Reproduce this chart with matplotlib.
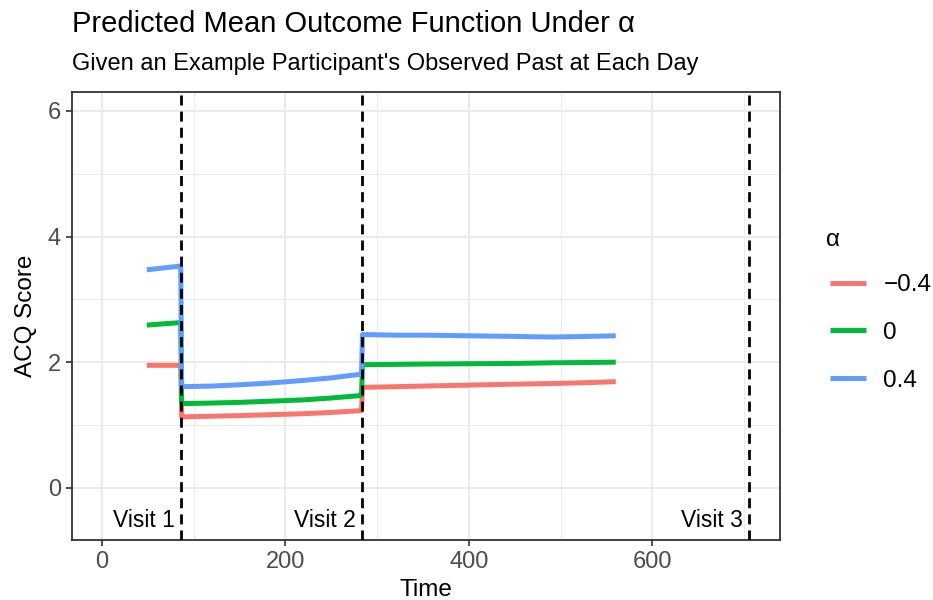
import matplotlib
matplotlib.use("Agg")
import matplotlib.pyplot as plt
from matplotlib.ticker import MultipleLocator

plt.rcParams['font.family'] = ['Liberation Sans', 'DejaVu Sans']

# days at which the predicted mean is shown
time = [49, 67, 86, 87, 120, 150, 185, 220, 250, 283,
        284, 320, 350, 400, 450, 490, 530, 560]

alpha_labels = ["\u22120.4", "0", "0.4"]
mean_neg = [1.95, 1.95, 1.95, 1.13, 1.14, 1.15, 1.165, 1.18, 1.20, 1.23,
            1.60, 1.61, 1.62, 1.635, 1.65, 1.66, 1.675, 1.69]
mean_zero = [2.59, 2.61, 2.63, 1.34, 1.35, 1.36, 1.38, 1.40, 1.43, 1.47,
             1.96, 1.965, 1.97, 1.975, 1.98, 1.99, 1.995, 2.00]
mean_pos = [3.47, 3.50, 3.53, 1.61, 1.62, 1.64, 1.67, 1.71, 1.75, 1.81,
            2.44, 2.43, 2.43, 2.42, 2.41, 2.40, 2.41, 2.42]

visit_days = [86, 283, 705]
visit_labels = ["Visit 1", "Visit 2", "Visit 3"]

colors = ["#F8766D", "#00BA38", "#619CFF"]

fig = plt.figure(figsize=(9.33, 6), dpi=100)
ax = fig.add_axes([72 / 933, 60 / 600, 708 / 933, 448 / 600])

for vals, lab, col in zip([mean_neg, mean_zero, mean_pos], alpha_labels, colors):
    ax.plot(time, vals, color=col, lw=3.6, label=lab, solid_capstyle="butt",
            solid_joinstyle="round", zorder=3)

for d, lab in zip(visit_days, visit_labels):
    ax.axvline(d, color="black", ls=(0, (3.6, 2.2)), lw=2, zorder=4)
    ax.annotate(lab, xy=(d, -0.52), xytext=(-4, 0), textcoords="offset points",
                ha="right", va="center", fontsize=16.5, color="black")

ax.set_xlim(-32.5, 739)
ax.set_ylim(-0.83, 6.3)
ax.xaxis.set_major_locator(MultipleLocator(200))
ax.xaxis.set_minor_locator(MultipleLocator(100))
ax.yaxis.set_major_locator(MultipleLocator(2))
ax.yaxis.set_minor_locator(MultipleLocator(1))
ax.grid(which="major", color="#EBEBEB", lw=1.4, zorder=0)
ax.grid(which="minor", color="#EBEBEB", lw=0.7, zorder=0)
ax.set_axisbelow(True)
ax.tick_params(which="minor", length=0)
ax.tick_params(which="major", length=4, width=1.2, color="#333333", pad=4,
               labelsize=17, labelcolor="#4D4D4D")
for s in ax.spines.values():
    s.set_color("#333333")
    s.set_linewidth(1.3)

ax.set_xlabel("Time", fontsize=17.5, labelpad=4)
ax.set_ylabel("ACQ Score", fontsize=17.5, labelpad=8)

fig.text(72 / 933, 1 - 32 / 600, "Predicted Mean Outcome Function Under \u03b1",
         fontsize=21, va="baseline", ha="left")
fig.text(72 / 933, 1 - 70 / 600, "Given an Example Participant's Observed Past at Each Day",
         fontsize=17, va="baseline", ha="left")

# legend title drawn separately so the gap to the keys matches
fig.text(826 / 933, 1 - 240 / 600, "\u03b1", fontsize=17.5, va="center", ha="left")
leg = ax.legend(loc="upper left", bbox_to_anchor=(830 / 933, 1 - 274 / 600),
                bbox_transform=fig.transFigure, frameon=False, borderpad=0,
                borderaxespad=0, fontsize=17.5, handlelength=1.5,
                labelspacing=1.06, handletextpad=0.7)

fig.savefig("out.png", dpi=100)
